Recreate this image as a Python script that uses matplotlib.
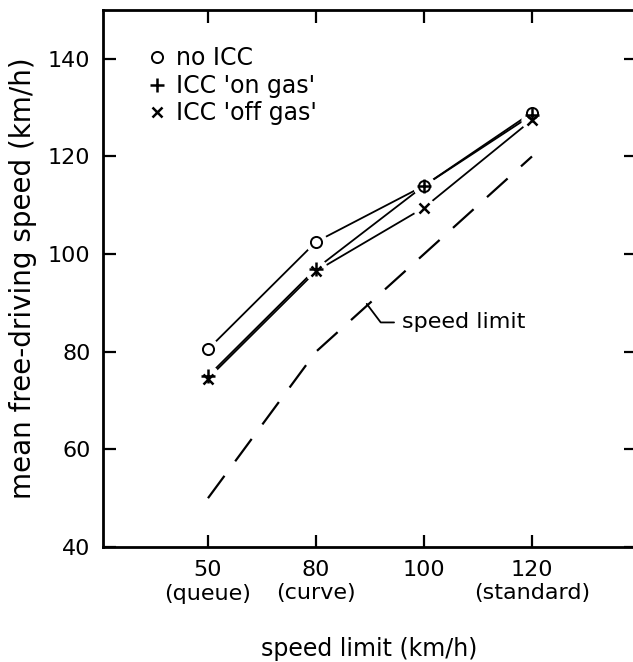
import numpy as np
import matplotlib
matplotlib.use("Agg")
import matplotlib.pyplot as plt

plt.rcParams["font.family"] = ["DejaVu Sans"]
plt.rcParams["lines.scale_dashes"] = False

# data
speed_limits = [50, 80, 100, 120]
tick_labels = ["50\n(queue)", "80\n(curve)", "100", "120\n(standard)"]
no_icc = [80.5, 102.5, 114.0, 129.0]
icc_on_gas = [75.0, 97.0, 114.0, 128.5]
icc_off_gas = [74.5, 96.5, 109.5, 127.5]
limit_line = [50, 80, 100, 120]

x = np.arange(1, len(speed_limits) + 1)

fig = plt.figure(figsize=(6.33, 6.62), dpi=100)
ax = fig.add_axes([103 / 633, 115 / 662, 533 / 633, 537 / 662])

series = [
    (no_icc, "o", dict(ms=8, mew=1.4, mfc="white"), "no ICC"),
    (icc_on_gas, "+", dict(ms=10, mew=1.8), "ICC 'on gas'"),
    (icc_off_gas, "x", dict(ms=7, mew=1.8), "ICC 'off gas'"),
]

for vals, m, kw, lab in series:
    ax.plot(x, vals, color="black", lw=1.3, zorder=2, solid_capstyle="butt")
# white halos so the lines stop short of the markers
for vals, m, kw, lab in series:
    ax.plot(x, vals, ls="none", marker="o", ms=15, mfc="white", mec="white", zorder=3)
handles = []
for vals, m, kw, lab in series:
    h, = ax.plot(x, vals, ls="none", marker=m, color="black", mec="black", zorder=4, **kw)
    handles.append(h)

ax.plot(x, limit_line, color="black", lw=1.6, dashes=(20, 13), zorder=2)

ax.annotate("speed limit", xy=(2.47, 89.8), xytext=(2.80, 86.0),
            fontsize=16, va="center", ha="left",
            arrowprops=dict(arrowstyle="-", lw=1.3, color="black",
                            shrinkA=4, shrinkB=0,
                            connectionstyle="angle,angleA=0,angleB=-53,rad=0"))

ax.set_xlim(0.028, 4.963)
ax.set_ylim(40, 150)
ax.set_xticks(x)
ax.set_xticklabels(tick_labels, fontsize=16, linespacing=1.25)
ax.set_yticks([40, 60, 80, 100, 120, 140])
ax.tick_params(axis="both", direction="in", length=9, width=1.6, labelsize=16, pad=9)
ax.tick_params(top=True, right=True)
for s in ax.spines.values():
    s.set_linewidth(2)

ax.set_xlabel("speed limit (km/h)", fontsize=17, labelpad=24)
ax.set_ylabel("mean free-driving speed (km/h)", fontsize=20, labelpad=8)

leg = ax.legend(handles, [s[3] for s in series], loc="upper left",
                bbox_to_anchor=(0.07, 0.95), frameon=False, fontsize=17,
                handlelength=0.6, handletextpad=0.5, labelspacing=0.15,
                borderaxespad=0)

fig.savefig("out.png", dpi=100)
